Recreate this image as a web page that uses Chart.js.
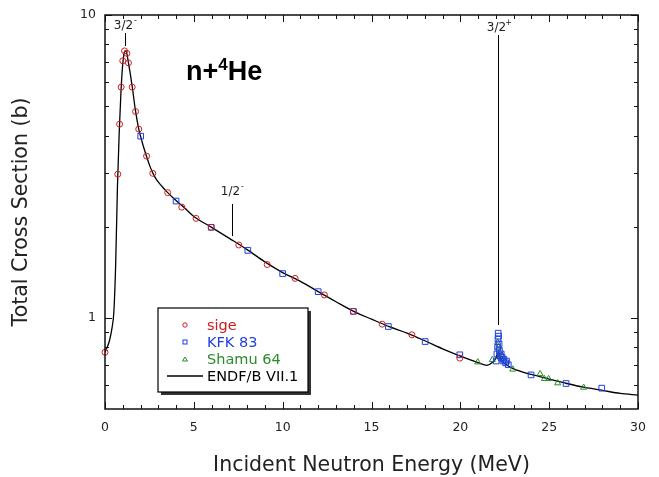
<!DOCTYPE html>
<html lang="en">
<head>
    <meta charset="UTF-8">
    <title>n+4He total cross section</title>
    <script src="https://cdn.jsdelivr.net/npm/chart.js"></script>
    <style>
        body { margin: 0; background: #fff; }
        canvas { display: block; }
    </style>
</head>
<body>
    <canvas id="myChart" width="659" height="477"></canvas>

    <script>
        // ENDF/B VII.1 evaluation (energy MeV, cross section b)
        const endfEnergy = [0, 0.25, 0.4, 0.5, 0.6, 0.7, 0.8, 0.9, 1.0, 1.08, 1.15, 1.22, 1.32, 1.45, 1.55, 1.7, 1.9, 2.0, 2.15, 2.3, 2.5, 2.7,
            2.9, 3.2, 3.5, 4.0, 4.5, 5.0, 6.0, 7.0, 8.0, 9.0, 10, 11, 12, 13, 14, 15, 16, 17, 18, 19, 20,
            21, 21.5, 21.8, 22.0, 22.1, 22.2, 22.35, 22.6, 23, 24, 25, 26, 27, 28, 29, 30];
        const endfSigma = [0.77, 0.84, 0.93, 1.05, 1.5, 2.7, 4.1, 5.6, 6.9, 7.5, 7.62, 7.5, 6.95, 6.25, 5.7, 4.9, 4.2, 3.98, 3.7, 3.47, 3.2, 3.0,
            2.86, 2.72, 2.6, 2.44, 2.3, 2.16, 1.99, 1.83, 1.68, 1.53, 1.41, 1.32, 1.22, 1.13, 1.05, 0.99, 0.935, 0.89, 0.84, 0.79, 0.748,
            0.712, 0.697, 0.712, 0.735, 0.765, 0.755, 0.72, 0.70, 0.678, 0.65, 0.628, 0.607, 0.589, 0.576, 0.563, 0.556];

        const sigeEnergy = [0, 0.72, 0.82, 0.91, 1.0, 1.10, 1.23, 1.32, 1.53, 1.72, 1.90, 2.34, 2.69, 3.53, 4.32, 5.13, 5.98,
            7.53, 9.13, 10.7, 12.35, 13.98, 15.6, 17.27, 19.97];
        const sigeSigma = [0.77, 2.98, 4.36, 5.78, 7.06, 7.61, 7.47, 6.95, 5.78, 4.80, 4.20, 3.42, 3.0, 2.59, 2.32, 2.13, 1.99,
            1.74, 1.50, 1.35, 1.19, 1.05, 0.953, 0.879, 0.736];

        const kfkEnergy = [2.01, 4.0, 5.98, 8.04, 10.0, 12.0, 13.98, 15.95, 18.02, 19.97,
            22.02, 22.06, 22.1, 22.12, 22.13, 22.15, 22.18, 22.2, 22.25, 22.3, 22.35, 22.4, 22.45, 22.55, 22.6, 22.7,
            23.98, 25.95, 27.96];
        const kfkSigma = [3.98, 2.43, 1.99, 1.67, 1.40, 1.22, 1.05, 0.936, 0.835, 0.755,
            0.72, 0.76, 0.80, 0.85, 0.89, 0.87, 0.82, 0.78, 0.75, 0.76, 0.74, 0.72, 0.73, 0.71, 0.72, 0.70,
            0.648, 0.607, 0.586];

        const shamuEnergy = [20.98, 21.8, 22.1, 22.15, 22.2, 22.25, 22.3, 22.5, 22.95, 24.49, 24.73, 24.97, 25.48, 26.94];
        const shamuSigma = [0.714, 0.727, 0.83, 0.80, 0.77, 0.74, 0.73, 0.72, 0.676, 0.653, 0.629, 0.629, 0.609, 0.589];

        const xTicks = [0, 5, 10, 15, 20, 25, 30];
        const yTickLabels = [1, 10];
        const yMinorTicks = [0.6, 0.7, 0.8, 0.9, 2, 3, 4, 5, 6, 7, 8, 9];

        const RED = '#d01c1c', BLUE = '#1f3fe0', GREEN = '#2a8c2a';
        const toPts = (xs, ys) => xs.map((v, i) => ({ x: v, y: ys[i] }));

        // frame, inward ticks, labels, annotations and the boxed legend
        const decorations = {
            id: 'decorations',
            afterDraw(chart) {
                const { ctx, chartArea: a, scales: { x, y } } = chart;
                const line = (x1, y1, x2, y2) => { ctx.beginPath(); ctx.moveTo(x1, y1); ctx.lineTo(x2, y2); ctx.stroke(); };
                ctx.save();
                ctx.strokeStyle = '#111';
                ctx.lineWidth = 1.5;
                ctx.strokeRect(a.left, a.top, a.right - a.left, a.bottom - a.top);

                ctx.lineWidth = 1;
                for (let v = 0; v <= 30; v++) {
                    const px = Math.round(x.getPixelForValue(v)) + 0.5;
                    const len = v % 5 === 0 ? 7 : 4;
                    line(px, a.bottom, px, a.bottom - len);
                    line(px, a.top, px, a.top + len);
                }
                yMinorTicks.concat(yTickLabels).forEach(v => {
                    const py = Math.round(y.getPixelForValue(v)) + 0.5;
                    const len = yTickLabels.includes(v) ? 7 : 4;
                    line(a.left, py, a.left + len, py);
                    line(a.right, py, a.right - len, py);
                });

                ctx.fillStyle = '#222';
                ctx.font = '12.5px "DejaVu Sans"';
                ctx.textAlign = 'center';
                ctx.textBaseline = 'middle';
                xTicks.forEach(v => ctx.fillText(String(v), x.getPixelForValue(v), a.bottom + 19));
                ctx.textAlign = 'right';
                yTickLabels.forEach(v => ctx.fillText(String(v), a.left - 9, y.getPixelForValue(v)));

                ctx.font = '20.5px "DejaVu Sans"';
                ctx.textAlign = 'center';
                ctx.fillText('Incident Neutron Energy (MeV)', (a.left + a.right) / 2, 466);
                ctx.save();
                ctx.translate(22, (a.top + a.bottom) / 2);
                ctx.rotate(-Math.PI / 2);
                ctx.fillText('Total Cross Section (b)', 0, 0);
                ctx.restore();

                // level annotations
                ctx.strokeStyle = '#000';
                ctx.lineWidth = 1;
                const level = (label, sign, e, yText, y1, y2) => {
                    const px = Math.round(x.getPixelForValue(e)) + 0.5;
                    line(px, y1, px, y2);
                    ctx.font = '12px "DejaVu Sans"';
                    ctx.textAlign = 'center';
                    ctx.fillStyle = '#222';
                    ctx.fillText(label, px - 2, yText);
                    ctx.font = '8px "DejaVu Sans"';
                    ctx.fillText(sign, px + 10, yText - 5);
                };
                level('3/2', '-', 1.12, 26, 33, 46);
                level('1/2', '-', 7.15, 192, 204, 236);
                level('3/2', '+', 22.1, 28, 35, 325);

                // title n+4He
                ctx.fillStyle = '#000';
                ctx.textAlign = 'left';
                ctx.textBaseline = 'alphabetic';
                ctx.font = 'bold 27px "Liberation Sans"';
                ctx.fillText('n+', 186, 80);
                let w = ctx.measureText('n+').width;
                ctx.font = 'bold 17px "Liberation Sans"';
                ctx.fillText('4', 186 + w, 70);
                w += ctx.measureText('4').width;
                ctx.font = 'bold 27px "Liberation Sans"';
                ctx.fillText('He', 186 + w, 80);

                // legend box with shadow
                const bx = 158, by = 308, bw = 150, bh = 84;
                ctx.fillStyle = '#333';
                ctx.fillRect(bx + 3, by + 3, bw, bh);
                ctx.fillStyle = '#fff';
                ctx.fillRect(bx, by, bw, bh);
                ctx.strokeStyle = '#000';
                ctx.lineWidth = 1.2;
                ctx.strokeRect(bx, by, bw, bh);

                const rows = [
                    { text: 'sige', color: RED, y: 325, mark: 'circle' },
                    { text: 'KFK 83', color: BLUE, y: 342, mark: 'rect' },
                    { text: 'Shamu 64', color: GREEN, y: 359, mark: 'triangle' },
                    { text: 'ENDF/B VII.1', color: '#000', y: 376, mark: 'line' }
                ];
                ctx.font = '14.5px "DejaVu Sans"';
                ctx.textBaseline = 'middle';
                rows.forEach(r => {
                    ctx.strokeStyle = r.color;
                    ctx.lineWidth = 1;
                    if (r.mark === 'circle') {
                        ctx.beginPath(); ctx.arc(185, r.y, 2.2, 0, Math.PI * 2); ctx.stroke();
                    } else if (r.mark === 'rect') {
                        ctx.strokeRect(183, r.y - 2, 4, 4);
                    } else if (r.mark === 'triangle') {
                        ctx.beginPath(); ctx.moveTo(185, r.y - 2); ctx.lineTo(187.5, r.y + 2); ctx.lineTo(182.5, r.y + 2); ctx.closePath(); ctx.stroke();
                    } else {
                        ctx.lineWidth = 1.3;
                        line(167, r.y, 203, r.y);
                    }
                    ctx.fillStyle = r.color;
                    ctx.fillText(r.text, 207, r.y + 1);
                });
                ctx.restore();
            }
        };

        const ctx = document.getElementById('myChart').getContext('2d');
        const myChart = new Chart(ctx, {
            type: 'scatter',
            data: {
                datasets: [
                    {
                        label: 'sige',
                        data: toPts(sigeEnergy, sigeSigma),
                        pointStyle: 'circle', pointRadius: 3,
                        borderColor: RED, backgroundColor: 'rgba(0,0,0,0)', borderWidth: 1,
                        clip: false, order: 0
                    },
                    {
                        label: 'KFK 83',
                        data: toPts(kfkEnergy, kfkSigma),
                        pointStyle: 'rect', pointRadius: 4,
                        borderColor: BLUE, backgroundColor: 'rgba(0,0,0,0)', borderWidth: 1,
                        clip: false, order: 0
                    },
                    {
                        label: 'Shamu 64',
                        data: toPts(shamuEnergy, shamuSigma),
                        pointStyle: 'triangle', pointRadius: 3.5,
                        borderColor: GREEN, backgroundColor: 'rgba(0,0,0,0)', borderWidth: 1,
                        clip: false, order: 0
                    },
                    {
                        label: 'ENDF/B VII.1',
                        data: toPts(endfEnergy, endfSigma),
                        showLine: true, pointRadius: 0,
                        borderColor: '#000', borderWidth: 1.3,
                        cubicInterpolationMode: 'monotone',
                        order: 1
                    }
                ]
            },
            options: {
                responsive: false,
                animation: false,
                layout: { padding: { left: 105, right: 21, top: 15, bottom: 68 } },
                plugins: { legend: { display: false }, tooltip: { enabled: false } },
                scales: {
                    x: { type: 'linear', min: 0, max: 30, display: false },
                    y: { type: 'logarithmic', min: 0.5, max: 10, display: false }
                }
            },
            plugins: [decorations]
        });
    </script>
</body>
</html>
